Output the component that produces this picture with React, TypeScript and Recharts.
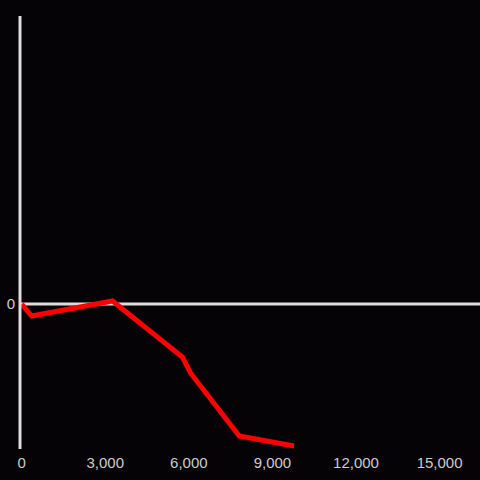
import { LineChart, Line, XAxis, YAxis, ReferenceLine } from 'recharts';

const xValues = [0, 360, 3260, 5770, 6060, 7810, 9780];
const yValues = [0, -12, 3, -53, -69, -132, -142];
const xTicks = [0, 3000, 6000, 9000, 12000, 15000];

const data = xValues.map((x, i) => ({ x, y: yValues[i] }));

const fmt = (v: number) => v.toLocaleString('en-US');

export default function App() {
  return (
    <div style={{ position: 'fixed', top: 0, left: 0, width: 480, height: 480, background: '#050306' }}>
      <LineChart
        width={480}
        height={480}
        data={data}
        margin={{ top: 16, right: 0, left: 0, bottom: 0 }}
        style={{ fontFamily: '"Liberation Sans", Arial, sans-serif' }}
      >
        <XAxis
          dataKey="x"
          type="number"
          domain={[-60, 16450]}
          ticks={xTicks}
          tickFormatter={fmt}
          axisLine={false}
          tickLine={false}
          height={31}
          tick={{ fill: '#cccccc', fontSize: 15 }}
          tickMargin={2}
          allowDataOverflow
        />
        <YAxis
          type="number"
          domain={[-145, 288]}
          ticks={[0]}
          width={20}
          axisLine={{ stroke: '#dddddd', strokeWidth: 3 }}
          tickLine={false}
          tick={{ fill: '#cccccc', fontSize: 15 }}
          tickMargin={-1}
          allowDataOverflow
        />
        <ReferenceLine y={0} stroke="#dddddd" strokeWidth={3} />
        <Line
          type="linear"
          dataKey="y"
          stroke="#ff0000"
          strokeWidth={5}
          dot={false}
          isAnimationActive={false}
        />
      </LineChart>
    </div>
  );
}
